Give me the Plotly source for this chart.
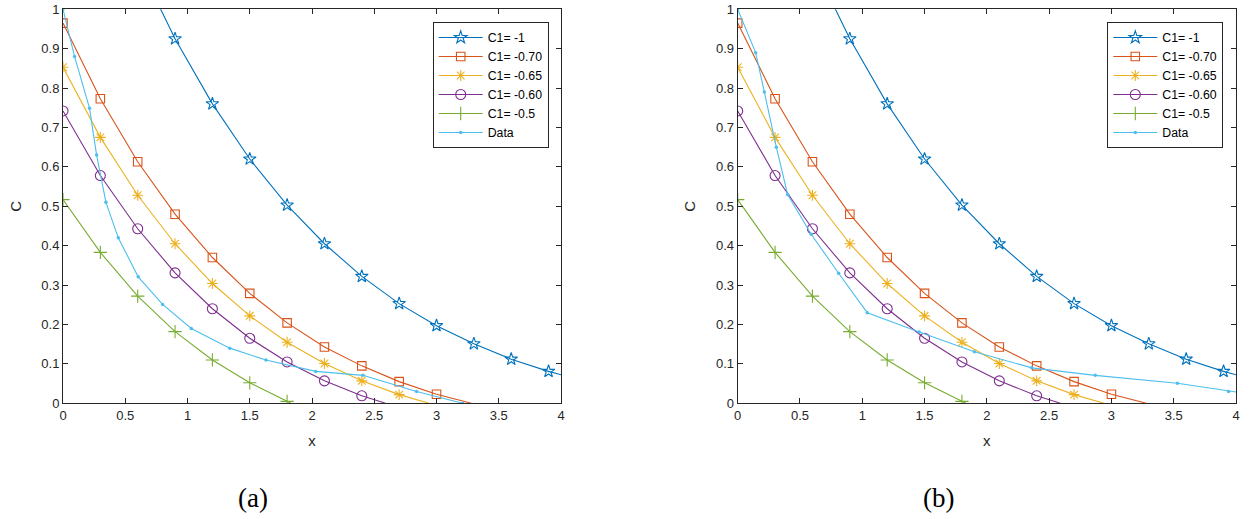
import plotly.graph_objects as go

# ---------------- data ----------------
x_model = [0, 0.3, 0.6, 0.9, 1.2, 1.5, 1.8, 2.1, 2.4, 2.7, 3.0, 3.3, 3.6, 3.9, 4.2]

c1_m100 = [1.64, 1.36, 1.12, 0.925, 0.76, 0.62, 0.503, 0.405, 0.322, 0.253, 0.197, 0.151, 0.112, 0.081, 0.055]
c1_m070 = [0.965, 0.773, 0.613, 0.48, 0.37, 0.279, 0.204, 0.143, 0.095, 0.055, 0.023]
c1_m065 = [0.853, 0.675, 0.528, 0.405, 0.304, 0.222, 0.155, 0.101, 0.057, 0.022]
c1_m060 = [0.742, 0.578, 0.443, 0.331, 0.24, 0.165, 0.105, 0.057, 0.019]
c1_m050 = [0.517, 0.383, 0.272, 0.182, 0.11, 0.052, 0.005]

# x where each model curve reaches C = 0
zero_x = {"C1= -0.70": 3.28, "C1= -0.65": 2.94, "C1= -0.60": 2.59, "C1= -0.5": 1.83}

data_a_x = [0, 0.093, 0.213, 0.27, 0.345, 0.444, 0.604, 0.80, 1.03, 1.34, 1.63, 2.03, 2.41, 2.84, 3.21]
data_a_y = [1.0, 0.88, 0.749, 0.63, 0.51, 0.42, 0.321, 0.251, 0.19, 0.14, 0.11, 0.081, 0.071, 0.03, 0.0]

data_b_x = [0, 0.144, 0.214, 0.31, 0.401, 0.59, 0.81, 1.04, 1.457, 1.90, 2.36, 2.87, 3.53, 3.94, 4.35]
data_b_y = [1.0, 0.89, 0.79, 0.65, 0.53, 0.429, 0.33, 0.23, 0.181, 0.131, 0.09, 0.071, 0.051, 0.030, 0.012]

x_ticks = [0, 0.5, 1, 1.5, 2, 2.5, 3, 3.5, 4]
y_ticks = [0, 0.1, 0.2, 0.3, 0.4, 0.5, 0.6, 0.7, 0.8, 0.9, 1]
panel_labels = ["(a)", "(b)"]

# ---------------- style ----------------
series = [
    ("C1= -1", c1_m100, "#0072BD", "star-open", 9.5),
    ("C1= -0.70", c1_m070, "#D95319", "square-open", 8.5),
    ("C1= -0.65", c1_m065, "#EDB120", "asterisk-open", 9),
    ("C1= -0.60", c1_m060, "#7E2F8E", "circle-open", 10),
    ("C1= -0.5", c1_m050, "#77AC30", "cross-thin-open", 9.5),
]
data_color = "#4DBEEE"
axis_color = "#262626"
font_family = "Liberation Sans, Arial, sans-serif"

W, H = 1249, 519


def px_x(p):
    return p / W


def px_y(p):
    return 1 - p / H


fig = go.Figure()

panels = [
    ("x", "y", "legend", data_a_x, data_a_y),
    ("x2", "y2", "legend2", data_b_x, data_b_y),
]

for xa, ya, lg, dx, dy in panels:
    for name, vals, color, sym, size in series:
        xs = x_model[:len(vals)]
        fig.add_trace(go.Scatter(
            x=xs, y=vals, mode="lines+markers", name=name,
            xaxis=xa, yaxis=ya, legend=lg, legendgroup=lg + name,
            line=dict(color=color, width=1.1),
            marker=dict(symbol=sym, size=size, color=color, line=dict(width=1.1, color=color)),
        ))
        if name in zero_x:
            fig.add_trace(go.Scatter(
                x=[xs[-1], zero_x[name]], y=[vals[-1], 0], mode="lines",
                xaxis=xa, yaxis=ya, legend=lg, legendgroup=lg + name, showlegend=False,
                line=dict(color=color, width=1.1), hoverinfo="skip",
            ))
    fig.add_trace(go.Scatter(
        x=dx, y=dy, mode="lines+markers", name="Data",
        xaxis=xa, yaxis=ya, legend=lg,
        line=dict(color=data_color, width=1.1),
        marker=dict(symbol="circle", size=3.5, color=data_color),
    ))

axis_common = dict(
    showline=True, linecolor=axis_color, linewidth=1, mirror="ticks",
    ticks="inside", ticklen=5, tickcolor=axis_color, tickwidth=1,
    showgrid=False, zeroline=False, automargin=False,
    tickfont=dict(family=font_family, size=13, color=axis_color),
)
title_font = dict(family=font_family, size=15, color=axis_color)

y_dom = [px_y(403.3), px_y(9.3)]
legend_common = dict(
    xanchor="right", y=px_y(22), yanchor="top",
    bordercolor=axis_color, borderwidth=1, bgcolor="white",
    font=dict(family=font_family, size=12.3, color="black"),
    tracegroupgap=0, itemwidth=44,
)
fig.update_layout(
    width=W, height=H,
    margin=dict(l=0, r=0, t=0, b=0),
    paper_bgcolor="white", plot_bgcolor="white",
    font=dict(family=font_family, color=axis_color),
    xaxis=dict(domain=[px_x(63), px_x(561)], range=[0, 4], tickvals=x_ticks,
               title=dict(text="x", font=title_font, standoff=13), anchor="y", **axis_common),
    yaxis=dict(domain=y_dom, range=[0, 1], tickvals=y_ticks,
               title=dict(text="C", font=title_font, standoff=16), anchor="x", **axis_common),
    xaxis2=dict(domain=[px_x(737.7), px_x(1236)], range=[0, 4], tickvals=x_ticks,
                title=dict(text="x", font=title_font, standoff=13), anchor="y2", **axis_common),
    yaxis2=dict(domain=y_dom, range=[0, 1], tickvals=y_ticks,
                title=dict(text="C", font=title_font, standoff=16), anchor="x2", **axis_common),
    legend=dict(x=px_x(548.7), **legend_common),
    legend2=dict(x=px_x(1223.3), **legend_common),
    showlegend=True,
)

for lbl, xc in zip(panel_labels, [253, 938]):
    fig.add_annotation(text=lbl, x=px_x(xc), y=px_y(498), xref="paper", yref="paper",
                       showarrow=False, xanchor="center", yanchor="middle",
                       font=dict(family="Liberation Serif, DejaVu Serif, serif", size=27, color="black"))

fig.write_html(
    "out.html",
    config={"displayModeBar": False},
    post_script="document.body.style.margin='0';document.body.style.overflow='hidden';",
)
